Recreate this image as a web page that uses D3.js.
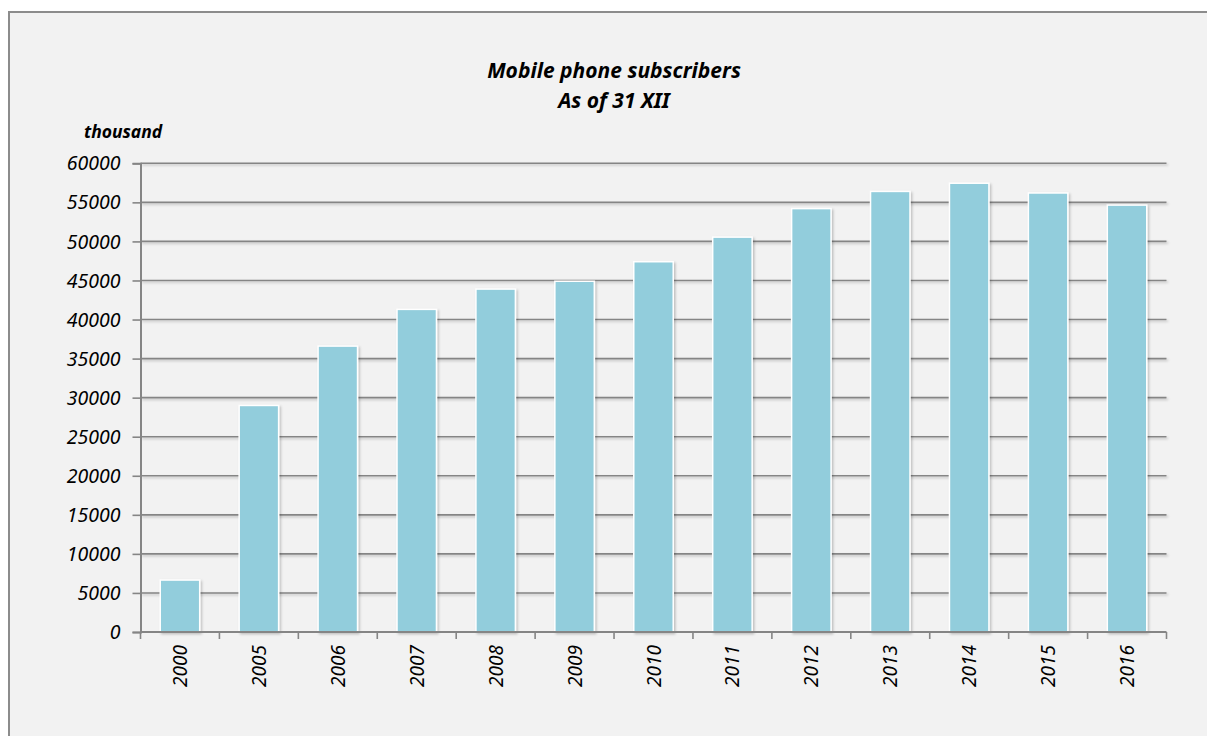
<!DOCTYPE html>
<html>
<head>
<meta charset="utf-8">
<script src="https://cdn.jsdelivr.net/npm/d3@7"></script>
<style>
  html, body { margin: 0; padding: 0; background: #fff; }
  svg { display: block; }
  text { font-family: "Noto Sans", "Open Sans", sans-serif; font-style: italic; fill: #000; }
</style>
</head>
<body>
<svg id="chart"></svg>
<script>
const years = ["2000", "2005", "2006", "2007", "2008", "2009", "2010", "2011", "2012", "2013", "2014", "2015", "2016"];
const subscribers = [6650, 29000, 36600, 41300, 43900, 44900, 47400, 50550, 54200, 56400, 57450, 56200, 54650];
const yTicks = [0, 5000, 10000, 15000, 20000, 25000, 30000, 35000, 40000, 45000, 50000, 55000, 60000];
const titleLines = ["Mobile phone subscribers", "As of 31 XII"];
const unitLabel = "thousand";

const width = 1207;
const height = 736;

const svg = d3.select("#chart")
  .attr("width", width)
  .attr("height", height)
  .attr("viewBox", [0, 0, width, height]);

// 阴影
const defs = svg.append("defs");
const shadow = defs.append("filter").attr("id", "shadow")
  .attr("filterUnits", "userSpaceOnUse")
  .attr("x", 0).attr("y", 0).attr("width", width).attr("height", height);
shadow.append("feDropShadow")
  .attr("dx", 1.5).attr("dy", 1.5).attr("stdDeviation", 1.2)
  .attr("flood-color", "#000").attr("flood-opacity", 0.22);

// 外框（右、下边在画面外）
svg.append("rect")
  .attr("x", 9).attr("y", 12)
  .attr("width", width + 20).attr("height", height + 20)
  .attr("fill", "#f2f2f2")
  .attr("stroke", "#8c8c8c")
  .attr("stroke-width", 2);

const x0 = 140.5, x1 = 1166.5, yTop = 163.3, yBottom = 632;

const x = d3.scaleBand().domain(years).range([x0, x1]).paddingInner(0.5).paddingOuter(0.25);
const y = d3.scaleLinear().domain([0, 60000]).range([yBottom, yTop]);

// 网格线
svg.append("g")
  .attr("filter", "url(#shadow)")
  .selectAll("line")
  .data(yTicks.filter(d => d > 0))
  .join("line")
  .attr("x1", x0).attr("x2", x1)
  .attr("y1", d => y(d)).attr("y2", d => y(d))
  .attr("stroke", "#858585")
  .attr("stroke-width", 1.6);

// y 轴
const yAxis = svg.append("g")
  .attr("transform", `translate(${x0},0)`)
  .call(d3.axisLeft(y).tickValues(yTicks).tickSize(8).tickPadding(12).tickFormat(d3.format("d")));
yAxis.select(".domain").attr("stroke", "#858585").attr("stroke-width", 2);
yAxis.selectAll(".tick line").attr("stroke", "#858585").attr("stroke-width", 1.6);
yAxis.selectAll("text").attr("font-size", 19.5).attr("font-family", null).attr("dy", "0.34em");

// 柱子
svg.append("g")
  .attr("filter", "url(#shadow)")
  .selectAll("rect")
  .data(years.map((yr, i) => ({ yr, v: subscribers[i] })))
  .join("rect")
  .attr("x", d => x(d.yr))
  .attr("y", d => y(d.v))
  .attr("width", x.bandwidth())
  .attr("height", d => yBottom - y(d.v))
  .attr("fill", "#92cddc")
  .attr("stroke", "#ffffff")
  .attr("stroke-width", 1.5);

// x 轴
const step = (x1 - x0) / years.length;
const xTickPos = d3.range(years.length + 1).map(i => x0 + i * step);
svg.append("line")
  .attr("x1", x0).attr("x2", x1)
  .attr("y1", yBottom).attr("y2", yBottom)
  .attr("stroke", "#858585").attr("stroke-width", 2);
svg.append("g")
  .selectAll("line")
  .data(xTickPos)
  .join("line")
  .attr("x1", d => d).attr("x2", d => d)
  .attr("y1", yBottom).attr("y2", yBottom + 7)
  .attr("stroke", "#858585").attr("stroke-width", 1.6);

svg.append("g")
  .selectAll("text")
  .data(years)
  .join("text")
  .attr("transform", d => `translate(${x(d) + x.bandwidth() / 2 + 7},${yBottom + 13}) rotate(-90)`)
  .attr("text-anchor", "end")
  .attr("font-size", 19)
  .text(d => d);

// 标题
svg.append("text")
  .attr("x", 614).attr("y", 78)
  .attr("text-anchor", "middle")
  .attr("font-size", 21)
  .attr("font-weight", "bold")
  .selectAll("tspan")
  .data(titleLines)
  .join("tspan")
  .attr("x", 614)
  .attr("dy", (d, i) => i === 0 ? 0 : 30)
  .text(d => d);

svg.append("text")
  .attr("x", 84).attr("y", 138)
  .attr("font-size", 17.5)
  .attr("font-weight", "bold")
  .text(unitLabel);
</script>
</body>
</html>
